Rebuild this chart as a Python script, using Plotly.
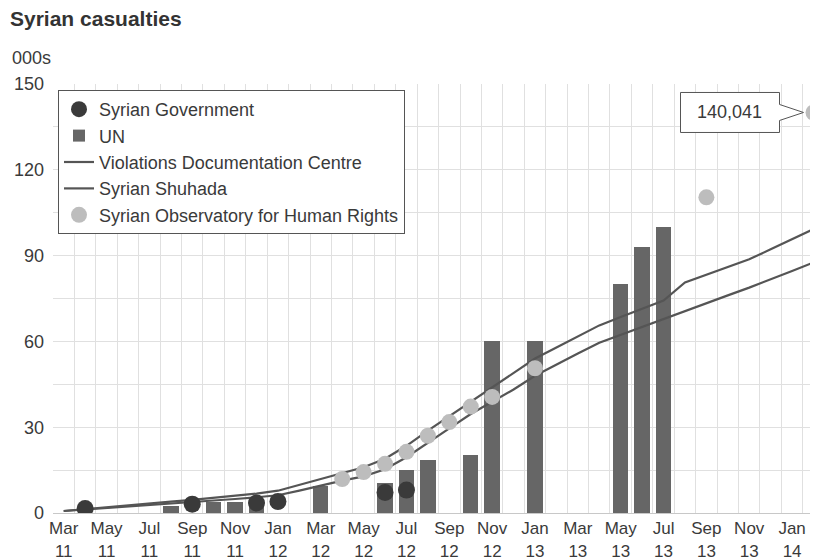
import plotly.graph_objects as go

# ---- data (thousands of deaths) ----
months = ["Mar 11", "Apr 11", "May 11", "Jun 11", "Jul 11", "Aug 11", "Sep 11", "Oct 11",
          "Nov 11", "Dec 11", "Jan 12", "Feb 12", "Mar 12", "Apr 12", "May 12", "Jun 12",
          "Jul 12", "Aug 12", "Sep 12", "Oct 12", "Nov 12", "Dec 12", "Jan 13", "Feb 13",
          "Mar 13", "Apr 13", "May 13", "Jun 13", "Jul 13", "Aug 13", "Sep 13", "Oct 13",
          "Nov 13", "Dec 13", "Jan 14", "Feb 14"]

tick_months = months[0::2]
tick_labels = [m.replace(" ", "<br>") for m in tick_months]

gov_months = ["Apr 11", "Sep 11", "Dec 11", "Jan 12", "Jun 12", "Jul 12"]
gov_vals = [1.6, 3.1, 3.5, 4.0, 7.2, 8.0]

un_months = ["Aug 11", "Oct 11", "Nov 11", "Dec 11", "Mar 12", "Jun 12", "Jul 12", "Aug 12",
             "Oct 12", "Nov 12", "Jan 13", "May 13", "Jun 13", "Jul 13"]
un_vals = [2.6, 3.8, 4.0, 5.0, 9.6, 10.5, 15.0, 18.4, 20.3, 60.0, 60.0, 80.0, 93.0, 100.0]

vdc_vals = [0.7, 1.2, 1.8, 2.3, 2.8, 3.4, 3.9, 4.4, 4.9, 5.5, 6.2, 7.8, 9.6, 11.3, 12.8, 15.3,
            19.5, 24.4, 29.6, 34.6, 38.8, 43.2, 48.0, 52.0, 55.8, 59.5, 62.3, 65.1, 67.9, 70.7,
            73.4, 76.1, 78.8, 81.6, 84.6, 87.6]
shuhada_vals = [0.7, 1.4, 2.0, 2.7, 3.3, 4.0, 4.6, 5.3, 5.9, 6.8, 7.8, 9.9, 11.9, 14.0, 16.0, 19.0,
                23.5, 28.8, 33.9, 38.8, 44.0, 49.0, 54.0, 57.9, 61.8, 65.6, 68.5, 71.4, 74.3, 80.6,
                83.3, 86.0, 88.7, 92.2, 95.8, 99.3]

sohr_months = ["Apr 12", "May 12", "Jun 12", "Jul 12", "Aug 12", "Sep 12", "Oct 12", "Nov 12",
               "Jan 13", "Sep 13", "Feb 14"]
sohr_vals = [11.9, 14.3, 17.2, 21.4, 27.0, 31.8, 37.2, 40.6, 50.6, 110.371, 140.041]

callout_label = "140,041"


def pos(labels):
    return [months.index(m) for m in labels]


TEXT = "#3a3a3a"
FONT = "Liberation Sans, Arial, sans-serif"

# page offset of the figure inside the browser (default body margin)
OFF = 8
# plot-area geometry (figure pixels)
L, T, W, H = 53 - OFF, 84 - OFF, 765, 429
FW = L + W
FH = 560 - OFF

fig = go.Figure()

fig.add_trace(go.Bar(
    x=pos(un_months), y=un_vals, name="UN", width=0.72,
    marker=dict(color="#666666", line=dict(width=0)), legendrank=2,
))
fig.add_trace(go.Scatter(
    x=list(range(len(months))), y=vdc_vals, name="Violations Documentation Centre",
    mode="lines", line=dict(color="#555555", width=2.2), legendrank=3,
))
fig.add_trace(go.Scatter(
    x=list(range(len(months))), y=shuhada_vals, name="Syrian Shuhada",
    mode="lines", line=dict(color="#555555", width=2.2), legendrank=4,
))
fig.add_trace(go.Scatter(
    x=pos(gov_months), y=gov_vals, name="Syrian Government", mode="markers",
    marker=dict(color="#3a3a3a", size=17, line=dict(width=0)), legendrank=1,
))
fig.add_trace(go.Scatter(
    x=pos(sohr_months), y=sohr_vals, name="Syrian Observatory for Human Rights", mode="markers",
    marker=dict(color="#bdbdbd", size=16, line=dict(width=0)), legendrank=5,
))

# callout bubble anchored to the last SOHR point
last_x = pos(sohr_months)[-1]
last_y = sohr_vals[-1]
fig.add_shape(
    type="path", xref="x", yref="y", xsizemode="pixel", ysizemode="pixel",
    xanchor=last_x, yanchor=last_y,
    path="M -133 20 L -34 20 L -34 8 L -10 0 L -34 -8 L -34 -20 L -133 -20 Z",
    fillcolor="white", line=dict(color="#555555", width=1), layer="above",
)
fig.add_annotation(
    x=last_x, y=last_y, xref="x", yref="y", text=callout_label, showarrow=False,
    xshift=-84, font=dict(size=18, color=TEXT, family=FONT),
)

fig.add_annotation(
    x=(10 - 53) / W, y=(513 - 58) / H, xref="paper", yref="paper",
    xanchor="left", yanchor="middle", text="000s", showarrow=False,
    font=dict(size=18, color=TEXT, family=FONT),
)

fig.update_layout(
    width=FW, height=FH,
    margin=dict(l=L, r=0, t=T, b=FH - T - H, pad=0, autoexpand=False),
    paper_bgcolor="white", plot_bgcolor="white",
    font=dict(family=FONT, size=18, color=TEXT),
    title=dict(text="<b>Syrian casualties</b>", x=(10 - OFF) / FW, xanchor="left",
               y=1 - (19 - OFF) / FH, yanchor="middle",
               font=dict(size=21, color="#333333", family=FONT)),
    showlegend=True,
    legend=dict(x=(58 - 53) / W, y=(513 - 90) / H,
                xanchor="left", yanchor="top", bgcolor="white", bordercolor="#555555",
                borderwidth=1, font=dict(size=18, color=TEXT, family=FONT),
                traceorder="normal"),
    bargap=0,
    xaxis=dict(
        range=[-0.5, 35.21], tickmode="array", tickvals=pos(tick_months), ticktext=tick_labels,
        tickangle=0, automargin=False,
        showgrid=False, zeroline=False, ticks="", showline=True, linecolor="#c8c8c8", linewidth=1,
        tickfont=dict(size=17, color=TEXT),
        minor=dict(tickmode="linear", tick0=-0.5, dtick=1, showgrid=True,
                   gridcolor="#e0e0e0", gridwidth=1, ticks=""),
    ),
    yaxis=dict(
        range=[0, 150], tickmode="array", tickvals=[0, 30, 60, 90, 120, 150],
        automargin=False,
        showgrid=True, gridcolor="#e0e0e0", gridwidth=1, zeroline=False, ticks="",
        ticklabelstandoff=8, tickfont=dict(size=18, color=TEXT),
        minor=dict(tickmode="linear", tick0=0, dtick=15, showgrid=True,
                   gridcolor="#e0e0e0", gridwidth=1, ticks=""),
    ),
)

fig.write_html("out.html")
